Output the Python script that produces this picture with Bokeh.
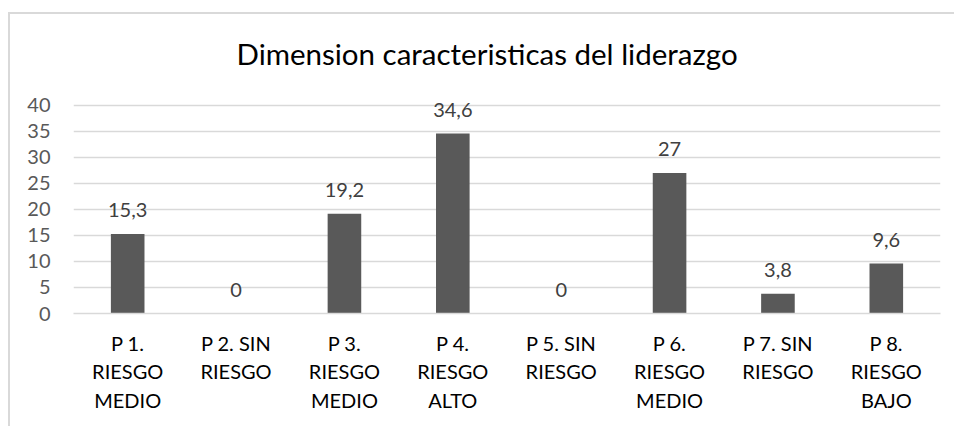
from bokeh.plotting import figure
from bokeh.models import FactorRange, Range1d, FixedTicker, ColumnDataSource
from bokeh.core.properties import value
from bokeh.embed import file_html
from bokeh.resources import INLINE

# ---- data ----
categories = [
    "P 1.\nRIESGO\nMEDIO",
    "P 2. SIN\nRIESGO",
    "P 3.\nRIESGO\nMEDIO",
    "P 4.\nRIESGO\nALTO",
    "P 5. SIN\nRIESGO",
    "P 6.\nRIESGO\nMEDIO",
    "P 7. SIN\nRIESGO",
    "P 8.\nRIESGO\nBAJO",
]
values = [15.3, 0, 19.2, 34.6, 0, 27, 3.8, 9.6]
value_labels = ["15,3", "0", "19,2", "34,6", "0", "27", "3,8", "9,6"]
y_ticks = [0, 5, 10, 15, 20, 25, 30, 35, 40]
title_text = "Dimension caracteristicas del liderazgo"

FONT = "Lato"

source = ColumnDataSource(dict(cat=categories, val=values, lab=value_labels))

# chart-area border (top and left edges) drawn as a CSS background behind a transparent canvas
border_css = {
    "background-color": "white",
    "background-image": "linear-gradient(#d9d9d9, #d9d9d9), linear-gradient(#d9d9d9, #d9d9d9)",
    "background-size": "100% 2px, 2px 100%",
    "background-position": "8px 12px, 8px 12px",
    "background-repeat": "no-repeat",
}

p = figure(
    width=954, height=426,
    x_range=FactorRange(factors=categories, range_padding=0),
    y_range=Range1d(0, 41.92),
    output_backend="svg", toolbar_location=None,
    min_border_left=73, min_border_right=14,
    min_border_top=95, min_border_bottom=113,
    title=title_text,
    styles=border_css,
)

p.vbar(x="cat", top="val", width=0.31, source=source,
       fill_color="#595959", line_color=None)

p.text(x="cat", y="val", text="lab", source=source,
       text_font=value(FONT), text_font_size="20px", text_color="#404040",
       text_align="center", text_baseline="middle", y_offset=-24)

p.title.text_font = FONT
p.title.text_font_size = "29.5px"
p.title.text_font_style = "normal"
p.title.text_color = "#000000"
p.title.align = "left"
p.title.offset = 163
p.title.standoff = 50

p.outline_line_color = None
p.background_fill_color = "white"
p.border_fill_alpha = 0

p.xgrid.grid_line_color = None
p.ygrid.ticker = FixedTicker(ticks=y_ticks)
p.ygrid.grid_line_color = "#d9d9d9"
p.ygrid.grid_line_width = 1.5

p.yaxis.ticker = FixedTicker(ticks=y_ticks)
p.yaxis.axis_line_color = None
p.yaxis.major_tick_line_color = None
p.yaxis.minor_tick_line_color = None
p.yaxis.major_tick_out = 0
p.yaxis.major_label_standoff = 23
p.yaxis.major_label_text_font = FONT
p.yaxis.major_label_text_font_size = "20px"
p.yaxis.major_label_text_color = "#595959"

p.xaxis.axis_line_color = "#d9d9d9"
p.xaxis.axis_line_width = 1.5
p.xaxis.major_tick_line_color = None
p.xaxis.minor_tick_line_color = None
p.xaxis.major_tick_out = 0
p.xaxis.major_label_standoff = 17
p.xaxis.major_label_text_font = FONT
p.xaxis.major_label_text_font_size = "20px"
p.xaxis.major_label_text_color = "#000000"
p.xaxis.major_label_text_line_height = 1.2
p.xaxis.major_label_orientation = "horizontal"

open("out.html", "w").write(file_html(p, INLINE))
